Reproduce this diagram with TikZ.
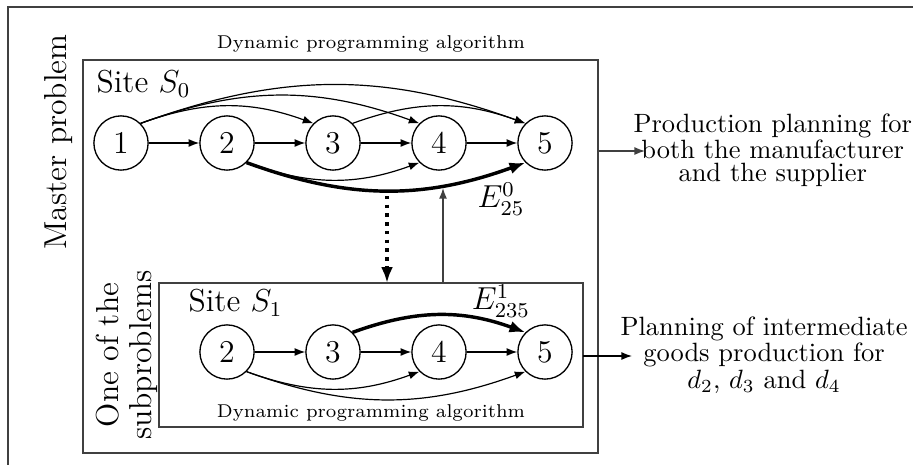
\documentclass[tikz,border=0pt]{standalone}
\usetikzlibrary{arrows.meta,fit}
\begin{document}
\begin{tikzpicture}[x=0.378pt,y=-0.378pt,
  vtx/.style={circle,draw,line width=0.5pt,minimum size=20.5pt,inner sep=0pt,font=\large},
  edg/.style={-{Latex[length=4pt,width=3pt]},line width=0.45pt},
  thk/.style={-{Latex[length=6pt,width=4.5pt]},line width=1.3pt},
  boxline/.style={draw=black!75,line width=0.7pt},
  small/.style={font=\scriptsize},
  outtext/.style={align=center,font=\fontsize{10}{8.6}\selectfont,inner sep=0pt}
]
\useasboundingbox (0,0) rectangle (913,464);
% outer frame (left and top sides visible)
\draw[black!75,line width=0.7pt] (8,470) -- (8,7) -- (920,7);

% boxes
\node[fit={(83,60) (598,453)},inner sep=0pt,boxline] (master) {};
\node[fit={(159,283) (583,427)},inner sep=0pt,boxline,fill=white] (sub) {};

% labels
\node[small] (dp1) at (371,44) {Dynamic programming algorithm};
\node[small] (dp2) at (371,413) {Dynamic programming algorithm};
\node[font=\large,anchor=west,inner sep=0pt] (site0) at (96,84) {Site $S_0$};
\node[font=\large,anchor=west,inner sep=0pt] (site1) at (188,303) {Site $S_1$};
\node[font=\large,rotate=90] (mp) at (59,142) {Master problem};
\node[font=\fontsize{12}{12.5}\selectfont,rotate=90,align=center] (sp) at (127,355) {One of the\\subproblems};

% master nodes
\node[vtx] (m1) at (121,143) {1};
\node[vtx] (m2) at (227,143) {2};
\node[vtx] (m3) at (333,143) {3};
\node[vtx] (m4) at (439,143) {4};
\node[vtx] (m5) at (545,143) {5};

\draw[edg] (m1) -- (m2);
\draw[edg] (m2) -- (m3);
\draw[edg] (m3) -- (m4);
\draw[edg] (m4) -- (m5);
\draw[edg] (m1.north east) to[bend left=20] (m3.north west);
\draw[edg] (m1.north east) to[bend left=20] (m4.north west);
\draw[edg] (m1.north east) to[bend left=20] (m5.north west);
\draw[edg] (m3.north east) to[bend left=20] (m5.north west);
\draw[edg] (m2.south east) to[bend right=20] (m4.south west);
\draw[thk] (m2.south east) to[bend right=20] (m5.south west);
\node[font=\large] (l25) at (501,199) {$E^{0}_{25}$};

% sub nodes
\node[vtx] (s2) at (227,352) {2};
\node[vtx] (s3) at (333,352) {3};
\node[vtx] (s4) at (439,352) {4};
\node[vtx] (s5) at (545,352) {5};

\draw[edg] (s2) -- (s3);
\draw[edg] (s3) -- (s4);
\draw[edg] (s4) -- (s5);
\draw[edg] (s2.south east) to[bend right=20] (s4.south west);
\draw[edg] (s2.south east) to[bend right=20] (s5.south west);
\draw[thk] (s3.north east) to[bend left=20] (s5.north west);
\node[font=\large] (l235) at (501,301) {$E^{1}_{235}$};

% link arrows between problems
\coordinate (dtop) at (387,196);
\coordinate (dbot) at (387,283);
\draw[-{Latex[length=6pt,width=4.5pt]},line width=1.3pt,dotted] (dtop) -- (dbot);
\coordinate (ubot) at (443,283);
\coordinate (utop) at (443,188);
\draw[-{Latex[length=4pt,width=3pt]},line width=0.5pt,black!75] (ubot) -- (utop);

% outputs
\node[outtext,anchor=west] (prod) at (633,150) {Production planning for\\both the manufacturer\\and the supplier};
\node[outtext,anchor=west] (plan) at (620,355) {Planning of intermediate\\goods production for\\$d_2$, $d_3$ and $d_4$};
\coordinate (pa) at (598,151);
\coordinate (pb) at (645,151);
\draw[edg,black!75] (pa) -- (pb);
\coordinate (qa) at (583,356);
\coordinate (qb) at (632,356);
\draw[edg] (qa) -- (qb);
\end{tikzpicture}
\end{document}
